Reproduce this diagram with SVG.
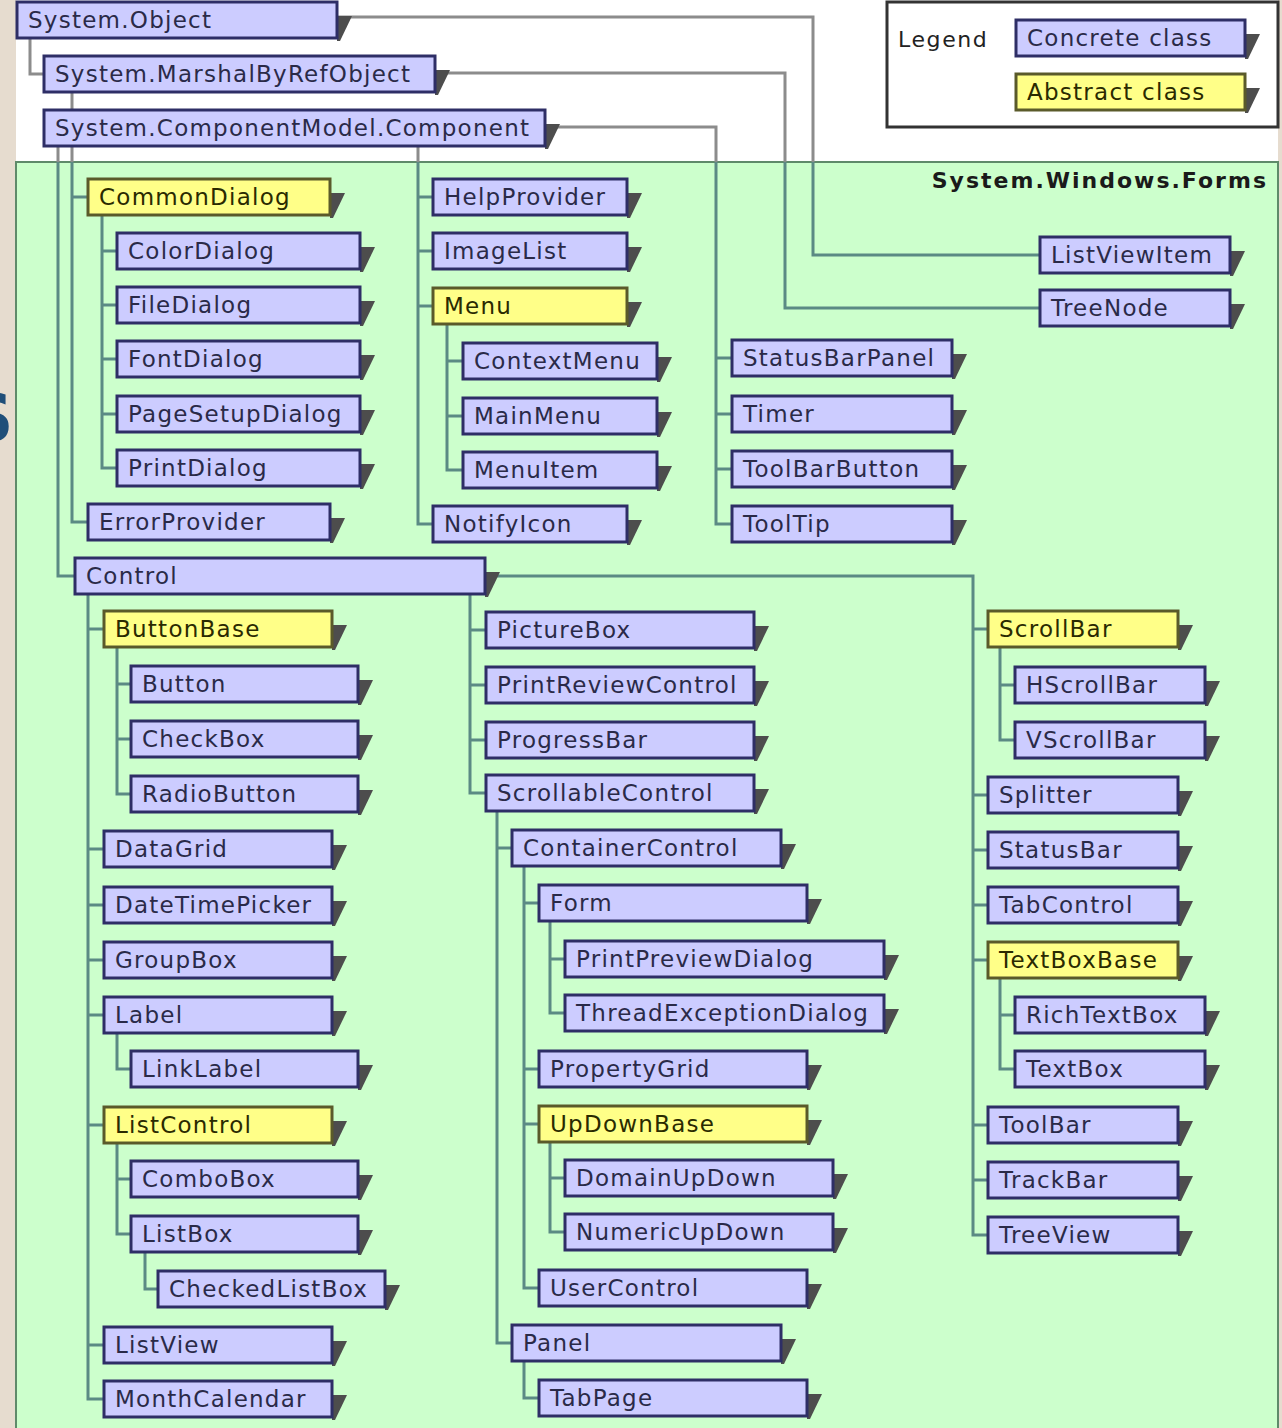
<svg xmlns="http://www.w3.org/2000/svg" width="1282" height="1428" viewBox="0 0 1282 1428">
<defs>
<linearGradient id="lc" gradientUnits="userSpaceOnUse" x1="0" y1="0" x2="0" y2="1428">
<stop offset="0" stop-color="#8c8c8c"/><stop offset="0.1134" stop-color="#8c8c8c"/>
<stop offset="0.1134" stop-color="#5b8a84"/><stop offset="1" stop-color="#5b8a84"/>
</linearGradient>
<style>
.bg{fill:#e6dccf}
.node rect{stroke-width:3}
.c rect{fill:#ccccff;stroke:#2e2e66}
.a rect{fill:#ffff88;stroke:#5a5a2a}
.sh{fill:#4d4d4d}
.node text{font-family:"DejaVu Sans",Verdana,sans-serif;font-size:23px;letter-spacing:1.25px}
.c text{fill:#2a2a48}
.a text{fill:#2a2a00}
#connectors path{fill:none;stroke:url(#lc);stroke-width:3}
</style>
</defs>
<rect class="bg" x="0" y="0" width="1282" height="1428"/>
<rect x="16" y="0" width="1262" height="162" fill="#ffffff"/>
<text x="-34" y="441" font-family="DejaVu Sans,sans-serif" font-weight="bold" font-size="66" fill="#1f4e79">S</text>
<rect id="swf" x="16" y="162" width="1262" height="1268" fill="#ccffcc" stroke="#5f8a6a" stroke-width="2"/>
<text x="1268" y="188" text-anchor="end" font-family="DejaVu Sans,sans-serif" font-weight="bold" font-size="22" letter-spacing="2" fill="#1a1a1a">System.Windows.Forms</text>
<g id="legend">
<rect x="887" y="2" width="391" height="125" fill="#ffffff" stroke="#333333" stroke-width="3"/>
<text x="898" y="47" font-family="DejaVu Sans,sans-serif" font-size="22" letter-spacing="1.6" fill="#222222">Legend</text>
<g id="legend-concrete" class="node c"><polygon class="sh" points="1245,34 1260,34 1248,59 1245,59"/><rect x="1016" y="20" width="229" height="36"/><text x="1027" y="46">Concrete class</text></g>
<g id="legend-abstract" class="node a"><polygon class="sh" points="1245,88 1260,88 1248,113 1245,113"/><rect x="1016" y="74" width="229" height="36"/><text x="1027" y="100">Abstract class</text></g>
</g>
<g id="connectors">
<path d="M30,38 V74 H44"/>
<path d="M337,17 H813 V255 H1040"/>
<path d="M72,92 V110"/>
<path d="M435,73 H785 V308 H1040"/>
<path d="M58,146 V576 H75"/>
<path d="M72,146 V522 H88 M72,197 H88"/>
<path d="M418,146 V524 H433 M418,197 H433 M418,251 H433 M418,306 H433"/>
<path d="M545,127 H716 V524 H732 M716,358 H732 M716,414 H732 M716,469 H732"/>
<path d="M102,215 V468 H117 M102,251 H117 M102,305 H117 M102,359 H117 M102,414 H117"/>
<path d="M447,324 V470 H463 M447,361 H463 M447,416 H463"/>
<path d="M88,594 V1399 H104 M88,629 H104 M88,849 H104 M88,905 H104 M88,960 H104 M88,1015 H104 M88,1125 H104 M88,1345 H104"/>
<path d="M117,647 V794 H131 M117,684 H131 M117,739 H131"/>
<path d="M117,1033 V1069 H131"/>
<path d="M117,1143 V1234 H131 M117,1179 H131"/>
<path d="M145,1252 V1289 H158"/>
<path d="M470,594 V793 H486 M470,630 H486 M470,685 H486 M470,740 H486"/>
<path d="M497,811 V1343 H512 M497,848 H512"/>
<path d="M524,866 V1288 H539 M524,903 H539 M524,1069 H539 M524,1124 H539"/>
<path d="M550,921 V1013 H565 M550,959 H565"/>
<path d="M550,1142 V1232 H565 M550,1178 H565"/>
<path d="M524,1361 V1398 H539"/>
<path d="M485,576 H973 V1235 H988 M973,629 H988 M973,795 H988 M973,850 H988 M973,905 H988 M973,960 H988 M973,1125 H988 M973,1180 H988"/>
<path d="M1000,647 V740 H1015 M1000,685 H1015"/>
<path d="M1000,978 V1069 H1015 M1000,1015 H1015"/>
</g>
<g id="n-SystemObject" class="node c"><polygon class="sh" points="337,16 352,16 340,41 337,41"/><rect x="17" y="2" width="320" height="36"/><text x="28" y="28">System.Object</text></g>
<g id="n-MarshalByRefObject" class="node c"><polygon class="sh" points="435,70 450,70 438,95 435,95"/><rect x="44" y="56" width="391" height="36"/><text x="55" y="82">System.MarshalByRefObject</text></g>
<g id="n-Component" class="node c"><polygon class="sh" points="545,124 560,124 548,149 545,149"/><rect x="44" y="110" width="501" height="36"/><text x="55" y="136">System.ComponentModel.Component</text></g>
<g id="n-CommonDialog" class="node a"><polygon class="sh" points="330,193 345,193 333,218 330,218"/><rect x="88" y="179" width="242" height="36"/><text x="99" y="205">CommonDialog</text></g>
<g id="n-ColorDialog" class="node c"><polygon class="sh" points="360,247 375,247 363,272 360,272"/><rect x="117" y="233" width="243" height="36"/><text x="128" y="259">ColorDialog</text></g>
<g id="n-FileDialog" class="node c"><polygon class="sh" points="360,301 375,301 363,326 360,326"/><rect x="117" y="287" width="243" height="36"/><text x="128" y="313">FileDialog</text></g>
<g id="n-FontDialog" class="node c"><polygon class="sh" points="360,355 375,355 363,380 360,380"/><rect x="117" y="341" width="243" height="36"/><text x="128" y="367">FontDialog</text></g>
<g id="n-PageSetupDialog" class="node c"><polygon class="sh" points="360,410 375,410 363,435 360,435"/><rect x="117" y="396" width="243" height="36"/><text x="128" y="422">PageSetupDialog</text></g>
<g id="n-PrintDialog" class="node c"><polygon class="sh" points="360,464 375,464 363,489 360,489"/><rect x="117" y="450" width="243" height="36"/><text x="128" y="476">PrintDialog</text></g>
<g id="n-ErrorProvider" class="node c"><polygon class="sh" points="330,518 345,518 333,543 330,543"/><rect x="88" y="504" width="242" height="36"/><text x="99" y="530">ErrorProvider</text></g>
<g id="n-HelpProvider" class="node c"><polygon class="sh" points="627,193 642,193 630,218 627,218"/><rect x="433" y="179" width="194" height="36"/><text x="444" y="205">HelpProvider</text></g>
<g id="n-ImageList" class="node c"><polygon class="sh" points="627,247 642,247 630,272 627,272"/><rect x="433" y="233" width="194" height="36"/><text x="444" y="259">ImageList</text></g>
<g id="n-Menu" class="node a"><polygon class="sh" points="627,302 642,302 630,327 627,327"/><rect x="433" y="288" width="194" height="36"/><text x="444" y="314">Menu</text></g>
<g id="n-NotifyIcon" class="node c"><polygon class="sh" points="627,520 642,520 630,545 627,545"/><rect x="433" y="506" width="194" height="36"/><text x="444" y="532">NotifyIcon</text></g>
<g id="n-ContextMenu" class="node c"><polygon class="sh" points="657,357 672,357 660,382 657,382"/><rect x="463" y="343" width="194" height="36"/><text x="474" y="369">ContextMenu</text></g>
<g id="n-MainMenu" class="node c"><polygon class="sh" points="657,412 672,412 660,437 657,437"/><rect x="463" y="398" width="194" height="36"/><text x="474" y="424">MainMenu</text></g>
<g id="n-MenuItem" class="node c"><polygon class="sh" points="657,466 672,466 660,491 657,491"/><rect x="463" y="452" width="194" height="36"/><text x="474" y="478">MenuItem</text></g>
<g id="n-StatusBarPanel" class="node c"><polygon class="sh" points="952,354 967,354 955,379 952,379"/><rect x="732" y="340" width="220" height="36"/><text x="743" y="366">StatusBarPanel</text></g>
<g id="n-Timer" class="node c"><polygon class="sh" points="952,410 967,410 955,435 952,435"/><rect x="732" y="396" width="220" height="36"/><text x="743" y="422">Timer</text></g>
<g id="n-ToolBarButton" class="node c"><polygon class="sh" points="952,465 967,465 955,490 952,490"/><rect x="732" y="451" width="220" height="36"/><text x="743" y="477">ToolBarButton</text></g>
<g id="n-ToolTip" class="node c"><polygon class="sh" points="952,520 967,520 955,545 952,545"/><rect x="732" y="506" width="220" height="36"/><text x="743" y="532">ToolTip</text></g>
<g id="n-ListViewItem" class="node c"><polygon class="sh" points="1230,251 1245,251 1233,276 1230,276"/><rect x="1040" y="237" width="190" height="36"/><text x="1051" y="263">ListViewItem</text></g>
<g id="n-TreeNode" class="node c"><polygon class="sh" points="1230,304 1245,304 1233,329 1230,329"/><rect x="1040" y="290" width="190" height="36"/><text x="1051" y="316">TreeNode</text></g>
<g id="n-Control" class="node c"><polygon class="sh" points="485,572 500,572 488,597 485,597"/><rect x="75" y="558" width="410" height="36"/><text x="86" y="584">Control</text></g>
<g id="n-ButtonBase" class="node a"><polygon class="sh" points="332,625 347,625 335,650 332,650"/><rect x="104" y="611" width="228" height="36"/><text x="115" y="637">ButtonBase</text></g>
<g id="n-DataGrid" class="node c"><polygon class="sh" points="332,845 347,845 335,870 332,870"/><rect x="104" y="831" width="228" height="36"/><text x="115" y="857">DataGrid</text></g>
<g id="n-DateTimePicker" class="node c"><polygon class="sh" points="332,901 347,901 335,926 332,926"/><rect x="104" y="887" width="228" height="36"/><text x="115" y="913">DateTimePicker</text></g>
<g id="n-GroupBox" class="node c"><polygon class="sh" points="332,956 347,956 335,981 332,981"/><rect x="104" y="942" width="228" height="36"/><text x="115" y="968">GroupBox</text></g>
<g id="n-Label" class="node c"><polygon class="sh" points="332,1011 347,1011 335,1036 332,1036"/><rect x="104" y="997" width="228" height="36"/><text x="115" y="1023">Label</text></g>
<g id="n-ListControl" class="node a"><polygon class="sh" points="332,1121 347,1121 335,1146 332,1146"/><rect x="104" y="1107" width="228" height="36"/><text x="115" y="1133">ListControl</text></g>
<g id="n-ListView" class="node c"><polygon class="sh" points="332,1341 347,1341 335,1366 332,1366"/><rect x="104" y="1327" width="228" height="36"/><text x="115" y="1353">ListView</text></g>
<g id="n-MonthCalendar" class="node c"><polygon class="sh" points="332,1395 347,1395 335,1420 332,1420"/><rect x="104" y="1381" width="228" height="36"/><text x="115" y="1407">MonthCalendar</text></g>
<g id="n-Button" class="node c"><polygon class="sh" points="358,680 373,680 361,705 358,705"/><rect x="131" y="666" width="227" height="36"/><text x="142" y="692">Button</text></g>
<g id="n-CheckBox" class="node c"><polygon class="sh" points="358,735 373,735 361,760 358,760"/><rect x="131" y="721" width="227" height="36"/><text x="142" y="747">CheckBox</text></g>
<g id="n-RadioButton" class="node c"><polygon class="sh" points="358,790 373,790 361,815 358,815"/><rect x="131" y="776" width="227" height="36"/><text x="142" y="802">RadioButton</text></g>
<g id="n-LinkLabel" class="node c"><polygon class="sh" points="358,1065 373,1065 361,1090 358,1090"/><rect x="131" y="1051" width="227" height="36"/><text x="142" y="1077">LinkLabel</text></g>
<g id="n-ComboBox" class="node c"><polygon class="sh" points="358,1175 373,1175 361,1200 358,1200"/><rect x="131" y="1161" width="227" height="36"/><text x="142" y="1187">ComboBox</text></g>
<g id="n-ListBox" class="node c"><polygon class="sh" points="358,1230 373,1230 361,1255 358,1255"/><rect x="131" y="1216" width="227" height="36"/><text x="142" y="1242">ListBox</text></g>
<g id="n-CheckedListBox" class="node c"><polygon class="sh" points="385,1285 400,1285 388,1310 385,1310"/><rect x="158" y="1271" width="227" height="36"/><text x="169" y="1297">CheckedListBox</text></g>
<g id="n-PictureBox" class="node c"><polygon class="sh" points="754,626 769,626 757,651 754,651"/><rect x="486" y="612" width="268" height="36"/><text x="497" y="638">PictureBox</text></g>
<g id="n-PrintReviewControl" class="node c"><polygon class="sh" points="754,681 769,681 757,706 754,706"/><rect x="486" y="667" width="268" height="36"/><text x="497" y="693">PrintReviewControl</text></g>
<g id="n-ProgressBar" class="node c"><polygon class="sh" points="754,736 769,736 757,761 754,761"/><rect x="486" y="722" width="268" height="36"/><text x="497" y="748">ProgressBar</text></g>
<g id="n-ScrollableControl" class="node c"><polygon class="sh" points="754,789 769,789 757,814 754,814"/><rect x="486" y="775" width="268" height="36"/><text x="497" y="801">ScrollableControl</text></g>
<g id="n-ContainerControl" class="node c"><polygon class="sh" points="781,844 796,844 784,869 781,869"/><rect x="512" y="830" width="269" height="36"/><text x="523" y="856">ContainerControl</text></g>
<g id="n-Panel" class="node c"><polygon class="sh" points="781,1339 796,1339 784,1364 781,1364"/><rect x="512" y="1325" width="269" height="36"/><text x="523" y="1351">Panel</text></g>
<g id="n-Form" class="node c"><polygon class="sh" points="807,899 822,899 810,924 807,924"/><rect x="539" y="885" width="268" height="36"/><text x="550" y="911">Form</text></g>
<g id="n-PropertyGrid" class="node c"><polygon class="sh" points="807,1065 822,1065 810,1090 807,1090"/><rect x="539" y="1051" width="268" height="36"/><text x="550" y="1077">PropertyGrid</text></g>
<g id="n-UpDownBase" class="node a"><polygon class="sh" points="807,1120 822,1120 810,1145 807,1145"/><rect x="539" y="1106" width="268" height="36"/><text x="550" y="1132">UpDownBase</text></g>
<g id="n-UserControl" class="node c"><polygon class="sh" points="807,1284 822,1284 810,1309 807,1309"/><rect x="539" y="1270" width="268" height="36"/><text x="550" y="1296">UserControl</text></g>
<g id="n-TabPage" class="node c"><polygon class="sh" points="807,1394 822,1394 810,1419 807,1419"/><rect x="539" y="1380" width="268" height="36"/><text x="550" y="1406">TabPage</text></g>
<g id="n-PrintPreviewDialog" class="node c"><polygon class="sh" points="884,955 899,955 887,980 884,980"/><rect x="565" y="941" width="319" height="36"/><text x="576" y="967">PrintPreviewDialog</text></g>
<g id="n-ThreadExceptionDialog" class="node c"><polygon class="sh" points="884,1009 899,1009 887,1034 884,1034"/><rect x="565" y="995" width="319" height="36"/><text x="576" y="1021">ThreadExceptionDialog</text></g>
<g id="n-DomainUpDown" class="node c"><polygon class="sh" points="833,1174 848,1174 836,1199 833,1199"/><rect x="565" y="1160" width="268" height="36"/><text x="576" y="1186">DomainUpDown</text></g>
<g id="n-NumericUpDown" class="node c"><polygon class="sh" points="833,1228 848,1228 836,1253 833,1253"/><rect x="565" y="1214" width="268" height="36"/><text x="576" y="1240">NumericUpDown</text></g>
<g id="n-ScrollBar" class="node a"><polygon class="sh" points="1178,625 1193,625 1181,650 1178,650"/><rect x="988" y="611" width="190" height="36"/><text x="999" y="637">ScrollBar</text></g>
<g id="n-Splitter" class="node c"><polygon class="sh" points="1178,791 1193,791 1181,816 1178,816"/><rect x="988" y="777" width="190" height="36"/><text x="999" y="803">Splitter</text></g>
<g id="n-StatusBar" class="node c"><polygon class="sh" points="1178,846 1193,846 1181,871 1178,871"/><rect x="988" y="832" width="190" height="36"/><text x="999" y="858">StatusBar</text></g>
<g id="n-TabControl" class="node c"><polygon class="sh" points="1178,901 1193,901 1181,926 1178,926"/><rect x="988" y="887" width="190" height="36"/><text x="999" y="913">TabControl</text></g>
<g id="n-TextBoxBase" class="node a"><polygon class="sh" points="1178,956 1193,956 1181,981 1178,981"/><rect x="988" y="942" width="190" height="36"/><text x="999" y="968">TextBoxBase</text></g>
<g id="n-ToolBar" class="node c"><polygon class="sh" points="1178,1121 1193,1121 1181,1146 1178,1146"/><rect x="988" y="1107" width="190" height="36"/><text x="999" y="1133">ToolBar</text></g>
<g id="n-TrackBar" class="node c"><polygon class="sh" points="1178,1176 1193,1176 1181,1201 1178,1201"/><rect x="988" y="1162" width="190" height="36"/><text x="999" y="1188">TrackBar</text></g>
<g id="n-TreeView" class="node c"><polygon class="sh" points="1178,1231 1193,1231 1181,1256 1178,1256"/><rect x="988" y="1217" width="190" height="36"/><text x="999" y="1243">TreeView</text></g>
<g id="n-HScrollBar" class="node c"><polygon class="sh" points="1205,681 1220,681 1208,706 1205,706"/><rect x="1015" y="667" width="190" height="36"/><text x="1026" y="693">HScrollBar</text></g>
<g id="n-VScrollBar" class="node c"><polygon class="sh" points="1205,736 1220,736 1208,761 1205,761"/><rect x="1015" y="722" width="190" height="36"/><text x="1026" y="748">VScrollBar</text></g>
<g id="n-RichTextBox" class="node c"><polygon class="sh" points="1205,1011 1220,1011 1208,1036 1205,1036"/><rect x="1015" y="997" width="190" height="36"/><text x="1026" y="1023">RichTextBox</text></g>
<g id="n-TextBox" class="node c"><polygon class="sh" points="1205,1065 1220,1065 1208,1090 1205,1090"/><rect x="1015" y="1051" width="190" height="36"/><text x="1026" y="1077">TextBox</text></g>
</svg>
